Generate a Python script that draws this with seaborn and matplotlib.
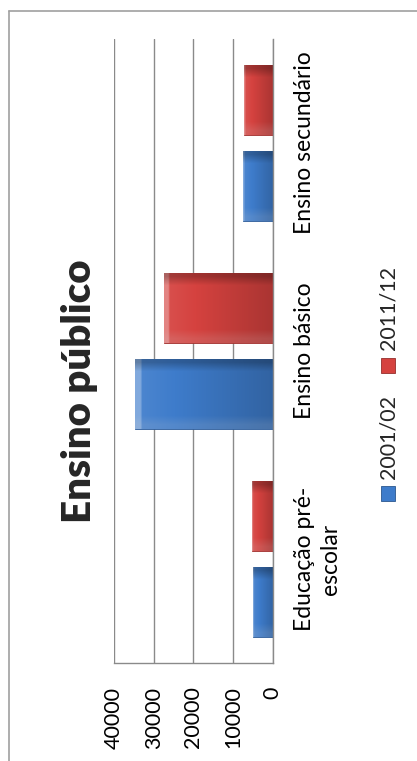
import numpy as np
import pandas as pd
import matplotlib
matplotlib.use("Agg")
import matplotlib.pyplot as plt
from matplotlib.patches import Rectangle
from matplotlib.lines import Line2D
from matplotlib.colors import to_rgb
import seaborn as sns

# ---------------- data ----------------
categories = ["Educação pré-escolar", "Ensino básico", "Ensino secundário"]
category_labels = ["Educação pré-\nescolar", "Ensino básico", "Ensino secundário"]
series = ["2001/02", "2011/12"]
values_2001 = [5050, 34600, 7600]
values_2011 = [5150, 27400, 7250]
value_ticks = [0, 10000, 20000, 30000, 40000]
title = "Ensino público"

BLUE = "#3E7CCB"
RED = "#D5423F"

df = pd.DataFrame({
    "categoria": categories * 2,
    "serie": [series[0]] * 3 + [series[1]] * 3,
    "valor": values_2001 + values_2011,
})

sns.set_style("white")
plt.rcParams["font.family"] = ["Lato", "DejaVu Sans"]
FS = 15.5
FS_CAT = 16.5
W, H = 417, 761

fig = plt.figure(figsize=(W / 100, H / 100), dpi=100)
ax = fig.add_axes([114 / W, (H - 663) / H, (272.7 - 114) / W, (663 - 39) / H])

sns.barplot(data=df, y="categoria", x="valor", hue="serie", orient="h",
            order=categories, hue_order=series, palette=[BLUE, RED],
            width=0.824, gap=0.18, saturation=1, legend=False, ax=ax)

# 3D-ish shading of the bars: gradient clipped to each bar
def shade(c, f):
    r, g, b = to_rgb(c)
    if f >= 0:
        return (r + (1 - r) * f, g + (1 - g) * f, b + (1 - b) * f)
    f = -f
    return (r * (1 - f), g * (1 - f), b * (1 - f))

for p in list(ax.patches):
    base = p.get_facecolor()
    x0, y0 = p.get_x(), p.get_y()
    w, h = p.get_width(), p.get_height()
    n = 64
    t = np.linspace(0, 1, n)  # 0 at the bar's end (value), 1 at base (0)
    cols = []
    for ti in t:
        if ti < 0.04:
            cols.append(shade(base, 0.35))
        else:
            cols.append(shade(base, 0.08 - 0.28 * ti))
    img = np.array(cols)[None, :, :]
    img = np.repeat(img, 8, axis=0)
    img[0, :, :] = img[0, :, :] * 0.75
    img[-1, :, :] = np.clip(img[-1, :, :] * 0.85 + 0.12, 0, 1)
    im = ax.imshow(img, extent=(x0 + w, x0, y0, y0 + h), aspect="auto",
                   interpolation="bilinear", zorder=p.get_zorder() + 0.1)
    im.set_clip_path(p)
    p.set_edgecolor(shade(base, -0.25))
    p.set_linewidth(0.6)

ax.set_xlim(40000, 0)
ax.set_ylim(-0.5, 2.5)

ax.set_xticks(value_ticks)
ax.set_xticklabels([str(v) for v in value_ticks], rotation=90, ha="center", va="top", fontsize=FS)
ax.tick_params(axis="x", length=0, pad=17, colors="black")

ax.yaxis.tick_right()
ax.set_yticks(range(len(categories)))
ax.set_yticklabels(category_labels, rotation=90, ha="left", va="center",
                   multialignment="center", fontsize=FS_CAT, linespacing=1.3)
ax.tick_params(axis="y", length=0, pad=15, colors="black")
ax.set_xlabel("")
ax.set_ylabel("")

ax.grid(axis="x", color="#8a8a8a", linewidth=1.0)
ax.grid(axis="y", visible=False)
ax.set_axisbelow(True)
for s in ["top", "left"]:
    ax.spines[s].set_visible(False)
for s in ["bottom", "right"]:
    ax.spines[s].set_color("#8a8a8a")
    ax.spines[s].set_linewidth(1.0)

# title
fig.text(80 / W, 1 - 391 / H, title, rotation=90, ha="center", va="center",
         fontsize=29, fontweight="heavy")

# legend (rotated, drawn manually)
leg = [(series[0], BLUE, 493, 436.5), (series[1], RED, 365, 308)]
for name, col, ysq, ytx in leg:
    fig.patches.append(Rectangle(((388 - 7) / W, 1 - (ysq + 7.5) / H), 14 / W, 15 / H,
                                 transform=fig.transFigure, facecolor=col,
                                 edgecolor=shade(col, -0.3), linewidth=0.6))
    fig.text(388 / W, 1 - ytx / H, name, rotation=90, ha="center", va="center", fontsize=FS)

# outer chart frame (partially cut off)
fig.add_artist(Line2D([8.5 / W, 8.5 / W], [0, 1 - 11 / H], transform=fig.transFigure,
                      color="#a0a0a0", linewidth=1.2))
fig.add_artist(Line2D([8.5 / W, 1], [1 - 11 / H, 1 - 11 / H], transform=fig.transFigure,
                      color="#a0a0a0", linewidth=1.2))

fig.savefig("out.png", dpi=100)
